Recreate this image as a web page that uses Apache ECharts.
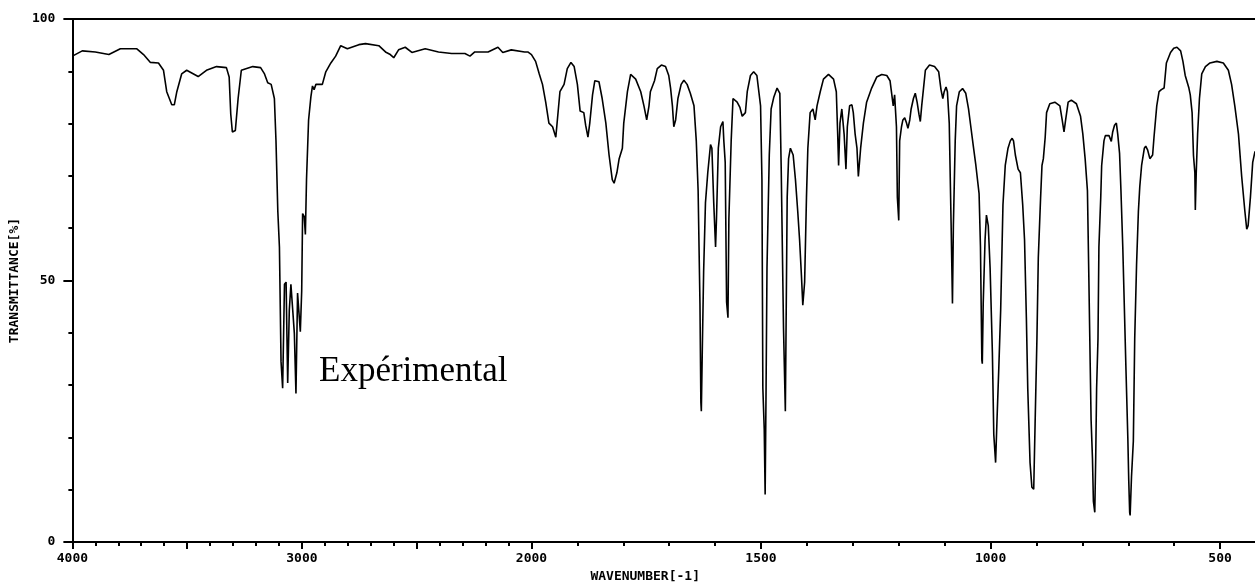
<!DOCTYPE html>
<html>
<head>
<meta charset="utf-8">
<script src="https://cdn.jsdelivr.net/npm/echarts@6/dist/echarts.min.js"></script>
<style>
html,body{margin:0;padding:0;background:#fff;}
#chart{width:1255px;height:588px;}
</style>
</head>
<body>
<div id="chart"></div>
<script>
// Wavenumbers (cm-1), descending
const wavenumber = [
4000,3957,3900,3841,3791,3719,3690,3660,3625,3603,3589,3567,3556,3545,3524,3502,3452,3416,3372,3329,
3317,3310,3303,3296,3290,3278,3264,3214,3180,3163,3149,3134,3120,3113,3105,3098,3091,3084,3076,3069,
3062,3055,3048,3040,3033,3026,3019,3012,3007,3001,2997,2990,2985,2980,2971,2961,2954,2947,2939,2911,
2896,2874,2853,2831,2802,2752,2723,2665,2636,2615,2600,2579,2550,2521,2463,2405,2348,2290,2268,2247,
2189,2146,2125,2088,2030,2016,2000,1991,1983,1976,1969,1962,1954,1947,1943,1938,1929,1922,1914,1907,
1900,1894,1886,1882,1877,1873,1867,1862,1853,1846,1838,1831,1824,1820,1814,1809,1802,1799,1791,1784,
1773,1762,1755,1749,1744,1741,1732,1726,1717,1708,1701,1697,1693,1690,1686,1681,1674,1668,1661,1654,
1646,1641,1637,1633,1631,1630,1628,1625,1621,1616,1610,1607,1603,1599,1597,1593,1588,1583,1581,1578,
1575,1572,1570,1565,1561,1552,1546,1541,1534,1530,1523,1516,1509,1501,1498,1496,1493,1491,1489,1487,
1482,1478,1472,1465,1459,1456,1451,1447,1443,1440,1436,1430,1425,1420,1416,1412,1409,1405,1401,1398,
1393,1387,1382,1378,1371,1364,1353,1342,1336,1333,1331,1328,1324,1319,1315,1312,1307,1302,1299,1295,
1291,1288,1283,1277,1270,1259,1248,1237,1226,1219,1212,1209,1205,1203,1200,1198,1194,1191,1187,1183,
1180,1176,1173,1168,1164,1160,1156,1153,1150,1146,1142,1133,1122,1113,1108,1104,1101,1097,1094,1090,
1086,1083,1081,1077,1074,1068,1061,1054,1048,1043,1038,1032,1025,1022,1019,1018,1016,1012,1009,1007,
1005,1001,996,993,989,986,982,978,973,968,962,957,953,950,946,940,935,930,926,922,
919,914,910,906,903,899,896,891,888,885,881,878,871,860,849,844,840,837,831,824,
813,804,799,794,789,786,783,781,778,776,773,771,769,766,764,760,758,753,750,746,
742,737,734,730,726,723,719,716,712,709,705,701,699,697,696,693,689,686,682,678,
675,671,665,662,658,653,647,644,638,633,628,622,617,608,601,594,586,581,576,568,
565,561,558,555,554,552,549,545,540,532,522,507,493,482,475,468,460,453,446,442,
439,434,429,424
];
// Transmittance (%)
const transmittance = [
92.9,93.9,93.7,93.2,94.3,94.3,93.2,91.7,91.6,90.2,86.1,83.6,83.6,86.1,89.5,90.2,89.0,90.2,90.9,90.7,
88.9,81.8,78.4,78.4,78.7,84.8,90.2,90.9,90.7,89.5,87.8,87.5,84.8,76.7,63.2,56.4,34.5,29.4,49.3,49.7,
30.4,44.3,49.3,44.3,39.9,28.4,47.6,47.6,40.2,48.0,62.8,62.2,58.8,69.3,80.7,85.1,87.2,86.5,87.5,87.5,
89.9,91.6,92.9,94.9,94.3,95.1,95.3,94.9,93.7,93.2,92.6,94.1,94.6,93.6,94.3,93.7,93.4,93.4,92.9,93.7,
93.7,94.6,93.6,94.1,93.7,93.7,93.2,91.9,89.5,87.5,84.1,80.1,79.4,77.4,77.7,86.1,87.5,90.5,91.7,90.9,
87.5,82.4,82.1,79.7,77.4,80.1,85.5,88.2,88.0,84.8,80.1,74.0,69.3,68.6,70.6,73.3,75.3,80.1,86.1,89.4,
88.5,86.1,83.4,80.7,83.4,86.1,88.2,90.5,91.2,90.9,89.2,86.8,83.4,79.4,80.7,84.8,87.5,88.3,87.5,85.8,
83.4,76.7,67.2,45.6,26.7,25.0,36.1,51.7,64.9,70.6,76.0,75.3,64.9,56.4,61.8,75.3,79.4,80.4,76.7,72.6,
45.9,42.9,61.8,76.7,84.8,84.1,83.1,81.4,82.1,86.1,89.2,89.9,89.2,83.4,69.3,29.4,21.6,9.1,29.4,52.4,
74.0,82.8,85.1,86.8,85.8,71.3,40.9,25.0,65.9,73.3,75.3,74.0,69.3,63.2,57.8,51.0,45.3,49.7,65.9,75.3,
82.1,82.8,80.7,83.4,86.1,88.5,89.4,88.5,86.1,78.0,72.0,80.1,82.8,78.0,71.3,79.4,83.4,83.6,82.1,78.0,
75.3,69.9,75.3,80.1,84.1,86.8,88.9,89.4,89.2,88.2,83.4,85.5,79.4,65.9,61.5,76.7,79.4,80.7,81.1,80.1,
79.1,80.7,82.8,84.8,85.8,84.1,81.8,80.4,83.4,86.8,90.2,91.2,90.9,89.9,86.5,84.8,86.1,87.0,86.1,80.1,
61.1,45.6,60.5,76.7,83.4,86.1,86.7,85.8,82.8,79.4,76.0,72.0,66.6,56.4,34.8,34.1,45.6,57.8,62.5,62.7,
60.5,52.4,36.1,20.6,15.2,23.3,33.4,44.3,64.5,72.0,75.3,76.7,77.2,76.7,74.0,71.3,70.6,64.5,57.8,42.9,
29.4,15.2,10.5,10.1,22.6,38.9,54.4,65.9,72.0,73.3,77.4,82.1,83.8,84.1,83.4,80.7,78.4,80.4,84.1,84.5,
83.8,81.4,78.0,73.3,67.2,51.0,34.1,23.3,15.9,7.8,5.7,15.9,29.4,38.9,56.4,65.9,72.0,76.7,77.7,77.4,
77.7,76.6,78.4,79.7,80.1,78.0,74.3,67.2,56.4,46.3,32.8,19.9,11.8,5.7,5.1,12.5,19.3,38.9,53.0,63.2,
67.9,72.0,75.3,75.7,75.0,73.3,74.0,77.4,83.4,86.1,86.5,86.8,91.6,93.6,94.4,94.6,93.9,91.9,89.2,86.8,
85.5,82.1,73.9,70.6,63.5,70.6,78.0,84.8,89.5,90.9,91.6,91.9,91.6,90.2,87.5,83.4,78.0,69.9,63.2,59.8,
60.5,65.9,72.6,74.7
];
// Tick marks (cm-1)
const minorTickWavenumbers = [];
for (let w = 4000; w >= 500; w -= 100) minorTickWavenumbers.push(w);
const majorTickWavenumbers = [4000, 3500, 3000, 2500, 2000, 1500, 1000, 500];
const labelledWavenumbers = [4000, 3000, 2000, 1500, 1000, 500];
const yTicks = [0, 50, 100];
const xRange = [424, 4000];
const annotation = 'Expérimental';
const xTitle = 'WAVENUMBER[-1]';
const yTitle = 'TRANSMITTANCE[%]';

// Piecewise axis: scale halves above 2000 cm-1
const toAxis = w => (w > 2000 ? 2000 + (w - 2000) / 2 : w);
const fromAxis = u => (u > 2000 ? 2000 + (u - 2000) * 2 : u);

const seriesData = wavenumber.map((w, i) => [toAxis(w), transmittance[i]]);

const monoFont = 'DejaVu Sans Mono';
const black = '#000';

const chart = echarts.init(document.getElementById('chart'), null, {renderer: 'canvas'});
chart.setOption({
  animation: false,
  backgroundColor: '#fff',
  grid: {left: 64, right: 0, top: 19, bottom: 39, containLabel: false},
  xAxis: [
    {
      type: 'value', position: 'bottom', inverse: true,
      min: toAxis(xRange[0]), max: toAxis(xRange[1]),
      axisLine: {show: true, onZero: false, lineStyle: {color: black, width: 2}},
      axisTick: {show: true, length: 4, customValues: minorTickWavenumbers.map(toAxis), lineStyle: {color: black, width: 2}},
      axisLabel: {show: false},
      splitLine: {show: false}
    },
    {
      type: 'value', position: 'bottom', inverse: true,
      min: toAxis(xRange[0]), max: toAxis(xRange[1]),
      axisLine: {show: false, onZero: false},
      axisTick: {show: true, length: 7, customValues: majorTickWavenumbers.map(toAxis), lineStyle: {color: black, width: 2}},
      axisLabel: {
        show: true, margin: 10, customValues: labelledWavenumbers.map(toAxis),
        formatter: v => String(Math.round(fromAxis(v))),
        color: black, fontFamily: monoFont, fontSize: 13, fontWeight: 'bold'
      },
      splitLine: {show: false},
      name: xTitle, nameLocation: 'middle', nameGap: 23,
      nameTextStyle: {color: black, fontFamily: monoFont, fontSize: 13, fontWeight: 'bold', padding: [0, 37, 0, 0]}
    },
    {
      type: 'value', position: 'top', inverse: true,
      min: toAxis(xRange[0]), max: toAxis(xRange[1]),
      axisLine: {show: true, onZero: false, lineStyle: {color: black, width: 2}},
      axisTick: {show: false}, axisLabel: {show: false}, splitLine: {show: false}
    }
  ],
  yAxis: {
    type: 'value', min: yTicks[0], max: yTicks[yTicks.length - 1], interval: 50,
    axisLine: {show: true, onZero: false, lineStyle: {color: black, width: 2}},
    axisTick: {show: true, length: 9, lineStyle: {color: black, width: 2}},
    minorTick: {show: true, splitNumber: 5, length: 4, lineStyle: {color: black, width: 2}},
    axisLabel: {margin: 17, color: black, fontFamily: monoFont, fontSize: 13, fontWeight: 'bold'},
    splitLine: {show: false}, minorSplitLine: {show: false},
    name: yTitle, nameLocation: 'middle', nameGap: 41, nameRotate: 90,
    nameTextStyle: {color: black, fontFamily: monoFont, fontSize: 13, fontWeight: 'bold'}
  },
  series: [{
    type: 'line', xAxisIndex: 0, yAxisIndex: 0,
    data: seriesData, showSymbol: false, symbol: 'none',
    lineStyle: {color: black, width: 1.6}, silent: true
  }],
  graphic: [{
    type: 'text', left: 319, top: 354,
    style: {text: annotation, font: '35px "Liberation Serif"', fill: black}
  }]
});
</script>
</body>
</html>
